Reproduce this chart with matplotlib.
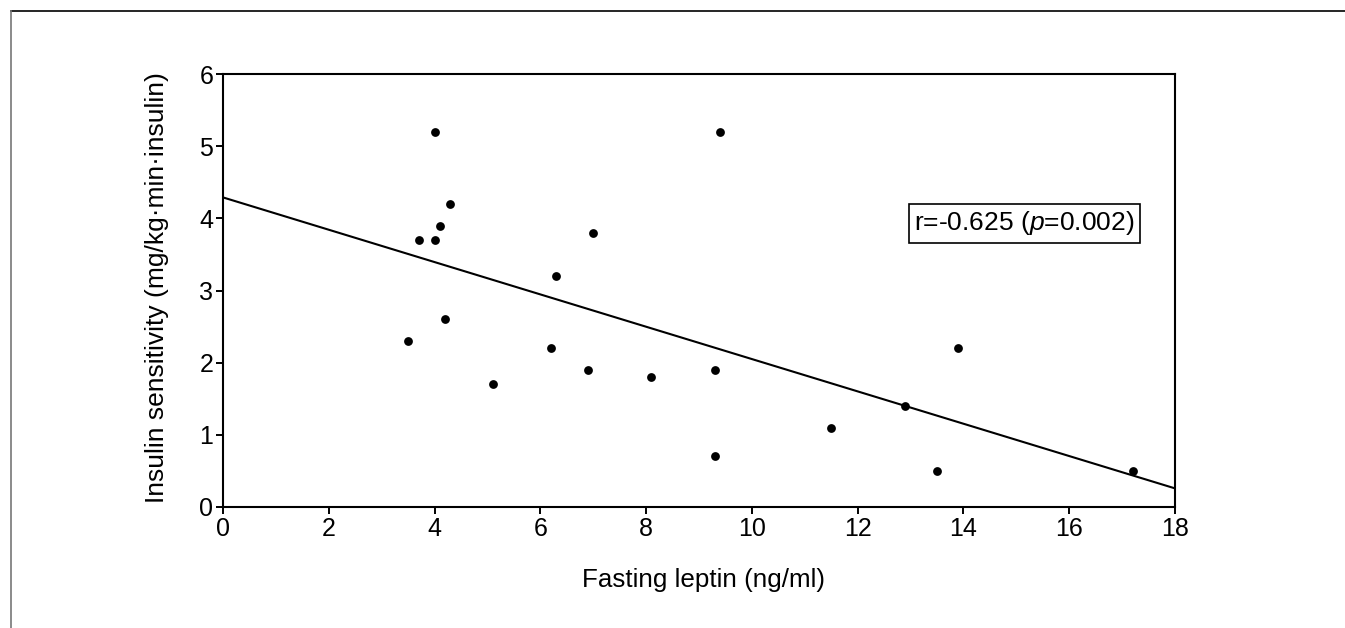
import matplotlib
matplotlib.use("Agg")
import matplotlib.pyplot as plt
from matplotlib.lines import Line2D
import numpy as np

plt.rcParams['font.family'] = ['Liberation Sans', 'DejaVu Sans']
plt.rcParams['mathtext.fontset'] = 'custom'
plt.rcParams['mathtext.rm'] = 'Liberation Sans'
plt.rcParams['mathtext.it'] = 'Liberation Sans:italic'

leptin = [3.5, 3.7, 4.0, 4.0, 4.1, 4.2, 4.3, 5.1, 6.2, 6.3, 6.9, 7.0,
          8.1, 9.3, 9.3, 9.4, 11.5, 12.9, 13.5, 13.9, 17.2]
sensitivity = [2.3, 3.7, 3.7, 5.2, 3.9, 2.6, 4.2, 1.7, 2.2, 3.2, 1.9, 3.8,
               1.8, 1.9, 0.7, 5.2, 1.1, 1.4, 0.5, 2.2, 0.5]
fit_intercept = 4.29
fit_slope = -0.224
x_ticks = [0, 2, 4, 6, 8, 10, 12, 14, 16, 18]
y_ticks = [0, 1, 2, 3, 4, 5, 6]
annotation = r"r=-0.625 ($\mathit{p}$=0.002)"

fig = plt.figure(figsize=(13.45, 6.28), dpi=100)
ax = fig.add_axes([223/1345, 1-507/628, (1175-223)/1345, (507-74)/628])

ax.scatter(leptin, sensitivity, s=40, color='black', zorder=3, linewidths=0)
xl = np.array([0, 18])
ax.plot(xl, fit_intercept + fit_slope*xl, color='black', lw=1.5, zorder=2)

ax.set_xlim(0, 18)
ax.set_ylim(0, 6)
ax.set_xticks(x_ticks)
ax.set_yticks(y_ticks)
ax.tick_params(direction='out', length=5, width=1.4, labelsize=18, pad=2, colors='black')
for s in ax.spines.values():
    s.set_linewidth(1.5)
    s.set_color('black')

ax.set_xlabel("Fasting leptin (ng/ml)", fontsize=18.7)
ax.set_ylabel("Insulin sensitivity (mg/kg\u00b7min\u00b7insulin)", fontsize=19)
ax.xaxis.set_label_coords((704-223)/952, (507-580)/433)
ax.xaxis.label.set_va('center')
ax.yaxis.set_label_coords((157-223)/952, (507-288)/433)
ax.yaxis.label.set_va('center')

ax.text(15.15, 3.93, annotation, fontsize=19, ha='center', va='center',
        bbox=dict(boxstyle='square,pad=0.2', facecolor='white', edgecolor='black', linewidth=1.2))

fig.add_artist(Line2D([11/1345, 1.0], [1-11/628, 1-11/628], transform=fig.transFigure, color='black', lw=1.2))
fig.add_artist(Line2D([11/1345, 11/1345], [0, 1-11/628], transform=fig.transFigure, color='#777777', lw=1.2))

fig.savefig("out.png", dpi=100)
